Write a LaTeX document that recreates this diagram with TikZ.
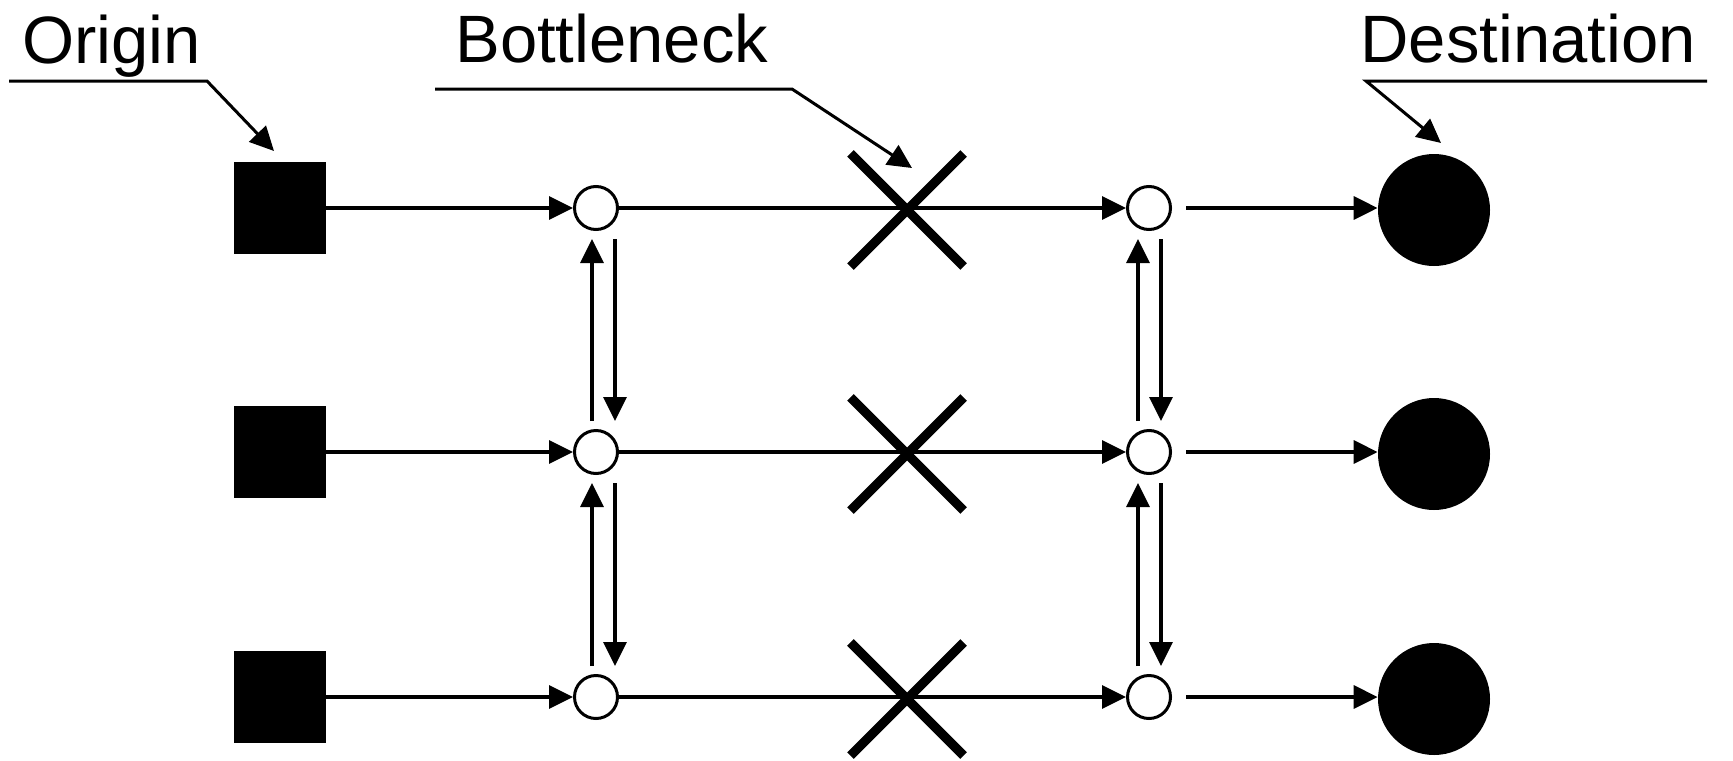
\documentclass[tikz,border=0pt]{standalone}
\usepackage{fontspec}
\setmainfont{Liberation Sans}
\usepackage{tikz}
\usetikzlibrary{arrows.meta,shapes.misc}

\begin{document}
\begin{tikzpicture}[x=0.5pt, y=-0.5pt,
    src/.style={rectangle, fill=black, minimum size=46pt, inner sep=0pt},
    hub/.style={circle, draw, line width=1.5pt, minimum size=21.5pt, inner sep=0pt},
    sink/.style={circle, fill=black, minimum size=56pt, inner sep=0pt},
    block/.style={cross out, draw, line width=4.6pt, minimum size=52pt, inner sep=0pt},
    flow/.style={-{Triangle[length=12pt,width=11.5pt]}, line width=1.7pt},
    vflow/.style={flow, shorten <=4pt, shorten >=4pt},
    lead/.style={-{Triangle[length=12pt,width=11.5pt]}, line width=1.5pt},
    lbl/.style={anchor=base west, inner sep=0pt, font=\fontsize{33.5pt}{40pt}\selectfont}]
    \useasboundingbox (0,0) rectangle (1733,760);

    \foreach \i/\y in {1/208,2/452,3/697} {
        \node[src] (o\i) at (280,\y) {};
        \node[hub] (h\i) at (596,\y) {};
        \node[block] (b\i) at (907,\y+2) {};
        \node[hub] (k\i) at (1149,\y) {};
        \node[sink] (d\i) at (1434,\y+2) {};
        \draw[flow] (o\i) -- (h\i);
        \draw[flow] (h\i) -- (k\i);
        \draw[flow, shorten <=7pt] (k\i) -- (k\i -| d\i.west);
    }

    \foreach \a/\b in {1/2,2/3} {
        \draw[vflow] ([xshift=-2pt]h\b.north) -- ([xshift=-2pt]h\a.south);
        \draw[vflow] ([xshift=9.5pt]h\a.south) -- ([xshift=9.5pt]h\b.north);
        \draw[vflow] ([xshift=-5.5pt]k\b.north) -- ([xshift=-5.5pt]k\a.south);
        \draw[vflow] ([xshift=6pt]k\a.south) -- ([xshift=6pt]k\b.north);
    }

    \node[lbl] (origin) at (22,63) {Origin};
    \node[lbl] (bottleneck) at (455,62) {Bottleneck};
    \node[lbl] (destination) at (1360,62) {Destination};

    \coordinate (ol) at (9,81);
    \coordinate (or) at (207,81);
    \coordinate (ot) at (274,151);
    \coordinate (bl) at (435,89);
    \coordinate (br) at (792,89);
    \coordinate (bt) at (912,168);
    \coordinate (dr) at (1707,81);
    \coordinate (dl) at (1366,81);
    \coordinate (dt) at (1441,143);

    \draw[lead] (ol) -- (or) -- (ot);
    \draw[lead] (bl) -- (br) -- (bt);
    \draw[lead] (dr) -- (dl) -- (dt);
\end{tikzpicture}
\end{document}
